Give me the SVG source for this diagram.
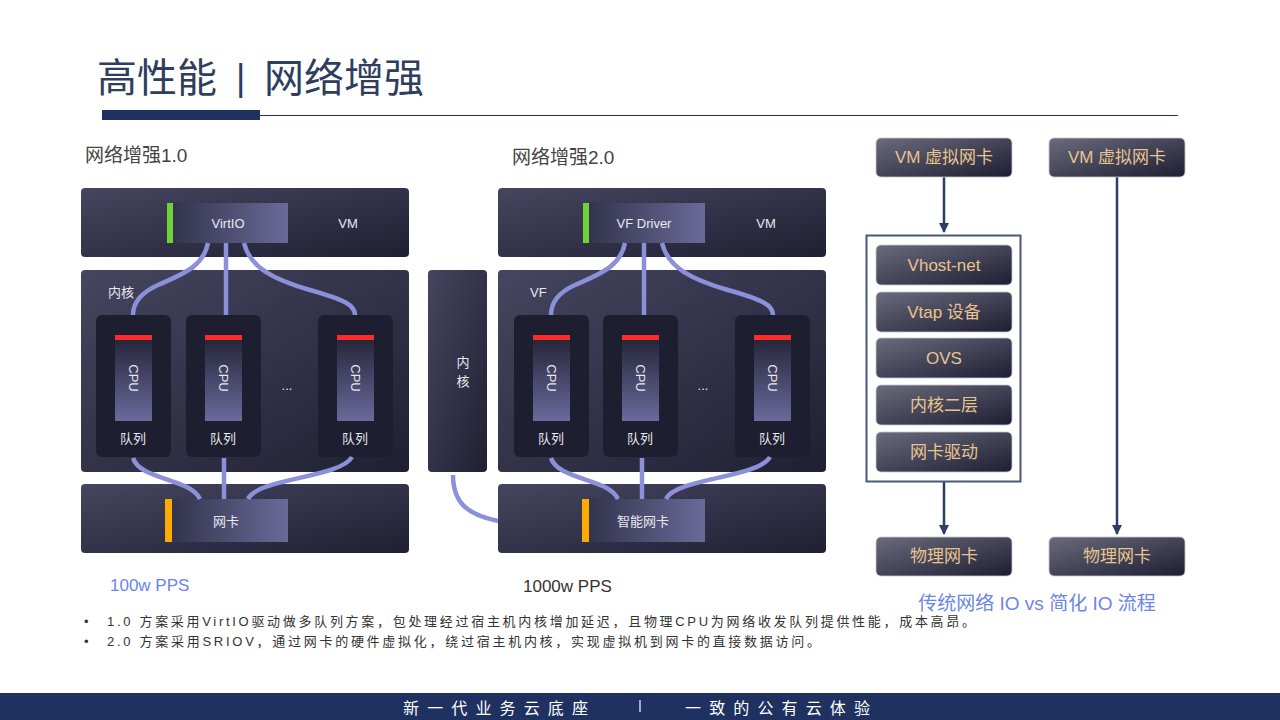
<svg xmlns="http://www.w3.org/2000/svg" width="1280" height="720" viewBox="0 0 1280 720">
<defs>
<linearGradient id="gBox" x1="0" y1="0" x2="1" y2="1">
<stop offset="0" stop-color="#45465f"/><stop offset="1" stop-color="#1f2033"/>
</linearGradient>
<linearGradient id="gInner" x1="0" y1="0" x2="1" y2="0">
<stop offset="0" stop-color="#33344d"/><stop offset="1" stop-color="#6b6a98"/>
</linearGradient>
<linearGradient id="gCpu" x1="0" y1="0" x2="0" y2="1">
<stop offset="0" stop-color="#26273a"/><stop offset="1" stop-color="#6a6a9c"/>
</linearGradient>
<linearGradient id="gFlow" x1="0" y1="0" x2="1" y2="1">
<stop offset="0" stop-color="#6a6b7c"/><stop offset="1" stop-color="#1d1e33"/>
</linearGradient>
<marker id="arr" viewBox="0 0 10 10" refX="9" refY="5" markerWidth="4" markerHeight="4" orient="auto">
<path d="M0,0 L10,5 L0,10 z" fill="#2d3e64"/>
</marker>
<style>
.panel{fill:url(#gBox)}
.card{fill:#1d1e2f}
.inner{fill:url(#gInner)}
.cpu{fill:url(#gCpu)}
.red{fill:#ff2a2a}
.wt{font-family:"Liberation Sans","Noto Sans CJK SC",sans-serif;fill:#e8e8f0;font-size:13px;text-anchor:middle}
.ft{fill:url(#gFlow);stroke:#c8c8d0;stroke-width:0.8}
.gt{font-family:"Liberation Sans","Noto Sans CJK SC",sans-serif;fill:#e8c48e;font-size:17px;text-anchor:middle}
.wire{fill:none;stroke:#8b90d8;stroke-width:4.5}
.arrow{stroke:#2d3e64;stroke-width:2.5;fill:none;marker-end:url(#arr)}
.cjk{font-family:"Liberation Sans","Noto Sans CJK SC",sans-serif}
</style>
</defs>
<rect width="1280" height="720" fill="#ffffff"/>

<g id="title" class="cjk" font-size="40" fill="#2f3e5e">
<text x="97" y="92">高性能</text>
<text x="236" y="90" font-size="36">|</text>
<text x="264" y="92">网络增强</text>
<rect x="102" y="110" width="158" height="10" fill="#1f3160"/>
<line x1="260" y1="115.5" x2="1178" y2="115.5" stroke="#1f3160" stroke-width="1.2"/>
</g>

<g id="labels">
<text x="85" y="162" class="cjk" font-size="19" fill="#444">网络增强1.0</text>
<text x="512" y="164" class="cjk" font-size="19" fill="#444">网络增强2.0</text>
<text x="110" y="591" class="cjk" font-size="17" fill="#6b84e6">100w PPS</text>
<text x="523" y="592" class="cjk" font-size="17" fill="#333">1000w PPS</text>
</g>

<!-- Diagram 1.0 -->
<g id="vm1">
<rect x="81" y="188" width="328" height="69" rx="4" class="panel"/>
<rect x="167" y="203" width="6" height="40" fill="#6fd43a"/>
<rect x="173" y="203" width="115" height="40" class="inner"/>
<text x="228" y="228" class="wt">VirtIO</text>
<text x="348" y="228" class="wt">VM</text>
</g>
<g id="kernel1">
<rect x="81" y="270" width="328" height="202" rx="4" class="panel"/>
<text x="108" y="297" class="wt" style="text-anchor:start">内核</text>
<text x="287" y="390" class="wt" fill="#999">...</text>
</g>
<g id="cpu1a">
<rect x="96" y="315" width="75" height="142" rx="6" class="card"/>
<rect x="115" y="335" width="37" height="5" class="red"/>
<rect x="115" y="340" width="37" height="81" class="cpu"/>
<text transform="translate(129,378) rotate(90)" class="wt">CPU</text>
<text x="133" y="443" class="wt" font-size="11">队列</text>
</g>
<g id="cpu1b">
<rect x="186" y="315" width="75" height="142" rx="6" class="card"/>
<rect x="205" y="335" width="37" height="5" class="red"/>
<rect x="205" y="340" width="37" height="81" class="cpu"/>
<text transform="translate(219,378) rotate(90)" class="wt">CPU</text>
<text x="223" y="443" class="wt" font-size="11">队列</text>
</g>
<g id="cpu1c">
<rect x="318" y="315" width="75" height="142" rx="6" class="card"/>
<rect x="337" y="335" width="37" height="5" class="red"/>
<rect x="337" y="340" width="37" height="81" class="cpu"/>
<text transform="translate(351,378) rotate(90)" class="wt">CPU</text>
<text x="355" y="443" class="wt" font-size="11">队列</text>
</g>
<g id="nic1">
<rect x="81" y="484" width="328" height="69" rx="4" class="panel"/>
<rect x="165" y="499" width="7" height="43" fill="#ffaa00"/>
<rect x="172" y="499" width="116" height="43" class="inner"/>
<text x="226" y="526" class="wt">网卡</text>
</g>

<!-- Diagram 2.0 -->
<g id="vm2">
<rect x="498" y="188" width="328" height="69" rx="4" class="panel"/>
<rect x="583" y="203" width="6" height="40" fill="#6fd43a"/>
<rect x="589" y="203" width="116" height="40" class="inner"/>
<text x="644" y="228" class="wt">VF Driver</text>
<text x="766" y="228" class="wt">VM</text>
</g>
<g id="hostkernel2">
<rect x="428" y="270" width="59" height="202" rx="4" class="panel"/>
<text x="463" y="367" class="wt" font-size="15">内</text>
<text x="463" y="386" class="wt" font-size="15">核</text>
</g>
<g id="vf2">
<rect x="498" y="270" width="328" height="202" rx="4" class="panel"/>
<text x="530" y="297" class="wt" style="text-anchor:start">VF</text>
<text x="703" y="390" class="wt" fill="#999">...</text>
</g>
<g id="cpu2a">
<rect x="514" y="315" width="75" height="142" rx="6" class="card"/>
<rect x="533" y="335" width="37" height="5" class="red"/>
<rect x="533" y="340" width="37" height="81" class="cpu"/>
<text transform="translate(547,378) rotate(90)" class="wt">CPU</text>
<text x="551" y="443" class="wt" font-size="11">队列</text>
</g>
<g id="cpu2b">
<rect x="603" y="315" width="75" height="142" rx="6" class="card"/>
<rect x="622" y="335" width="37" height="5" class="red"/>
<rect x="622" y="340" width="37" height="81" class="cpu"/>
<text transform="translate(636,378) rotate(90)" class="wt">CPU</text>
<text x="640" y="443" class="wt" font-size="11">队列</text>
</g>
<g id="cpu2c">
<rect x="735" y="315" width="75" height="142" rx="6" class="card"/>
<rect x="754" y="335" width="37" height="5" class="red"/>
<rect x="754" y="340" width="37" height="81" class="cpu"/>
<text transform="translate(768,378) rotate(90)" class="wt">CPU</text>
<text x="772" y="443" class="wt" font-size="11">队列</text>
</g>
<g id="nic2">
<rect x="498" y="484" width="328" height="69" rx="4" class="panel"/>
<rect x="582" y="499" width="7" height="43" fill="#ffaa00"/>
<rect x="589" y="499" width="116" height="43" class="inner"/>
<text x="643" y="526" class="wt">智能网卡</text>
</g>

<g id="wires">
<path class="wire" d="M208,243 C203,268 180,275 158,285 C138,294 133,305 133,315"/>
<path class="wire" d="M226,243 L226,315"/>
<path class="wire" d="M244,243 C250,268 275,280 310,290 C345,300 355,305 355,315"/>
<path class="wire" d="M133,458 C140,480 190,478 200,499"/>
<path class="wire" d="M224,458 L224,499"/>
<path class="wire" d="M352,457 C340,478 258,478 248,499"/>
<path class="wire" d="M625,243 C620,268 597,275 575,285 C555,294 551,305 551,315"/>
<path class="wire" d="M644,243 L644,315"/>
<path class="wire" d="M662,243 C668,268 693,280 728,290 C763,300 773,305 773,315"/>
<path class="wire" d="M551,458 C558,480 608,478 618,499"/>
<path class="wire" d="M642,458 L642,499"/>
<path class="wire" d="M770,457 C758,478 676,478 666,499"/>
<path class="wire" d="M453,475 C453,505 470,515 498,521"/>
</g>

<!-- Flow comparison -->
<g id="connectors">
<line class="arrow" x1="944" y1="177" x2="944" y2="232"/>
<line class="arrow" x1="944" y1="481" x2="944" y2="534"/>
<line class="arrow" x1="1117" y1="177" x2="1117" y2="534"/>
</g>
<g id="flow-outline">
<rect x="866.5" y="235.5" width="154" height="246" fill="none" stroke="#4a5878" stroke-width="2"/>
</g>
<g id="vnic-a"><rect x="876" y="138" width="136" height="39" rx="5" class="ft"/><text x="944" y="163" class="gt">VM 虚拟网卡</text></g>
<g id="vnic-b"><rect x="1049" y="138" width="136" height="39" rx="5" class="ft"/><text x="1117" y="163" class="gt">VM 虚拟网卡</text></g>
<g id="vhost"><rect x="876" y="245" width="136" height="40" rx="5" class="ft"/><text x="944" y="271" class="gt">Vhost-net</text></g>
<g id="vtap"><rect x="876" y="292" width="136" height="40" rx="5" class="ft"/><text x="944" y="318" class="gt">Vtap 设备</text></g>
<g id="ovs"><rect x="876" y="338" width="136" height="40" rx="5" class="ft"/><text x="944" y="364" class="gt">OVS</text></g>
<g id="l2"><rect x="876" y="385" width="136" height="40" rx="5" class="ft"/><text x="944" y="411" class="gt">内核二层</text></g>
<g id="drv"><rect x="876" y="432" width="136" height="40" rx="5" class="ft"/><text x="944" y="458" class="gt">网卡驱动</text></g>
<g id="pnic-a"><rect x="876" y="537" width="136" height="39" rx="5" class="ft"/><text x="944" y="562" class="gt">物理网卡</text></g>
<g id="pnic-b"><rect x="1049" y="537" width="136" height="39" rx="5" class="ft"/><text x="1117" y="562" class="gt">物理网卡</text></g>
<g id="flow-caption">
<text x="1037" y="610" class="cjk" font-size="19" fill="#6b86e6" text-anchor="middle">传统网络 IO vs 简化 IO 流程</text>
</g>

<g id="notes" class="cjk" font-size="13" fill="#333">
<text x="84" y="626">•</text>
<text x="107" y="626" textLength="868" lengthAdjust="spacing">1.0 方案采用VirtIO驱动做多队列方案，包处理经过宿主机内核增加延迟，且物理CPU为网络收发队列提供性能，成本高昂。</text>
<text x="84" y="646">•</text>
<text x="107" y="646" textLength="713" lengthAdjust="spacing">2.0 方案采用SRIOV，通过网卡的硬件虚拟化，绕过宿主机内核，实现虚拟机到网卡的直接数据访问。</text>
</g>

<g id="footer">
<rect x="0" y="693" width="1280" height="27" fill="#1f3160"/>
<text x="403" y="714" class="cjk" font-size="16" fill="#fff" textLength="185" lengthAdjust="spacing">新一代业务云底座</text>
<line x1="640" y1="700" x2="640" y2="712" stroke="#fff" stroke-width="1.2"/>
<text x="685" y="714" class="cjk" font-size="16" fill="#fff" textLength="185" lengthAdjust="spacing">一致的公有云体验</text>
</g>
</svg>
